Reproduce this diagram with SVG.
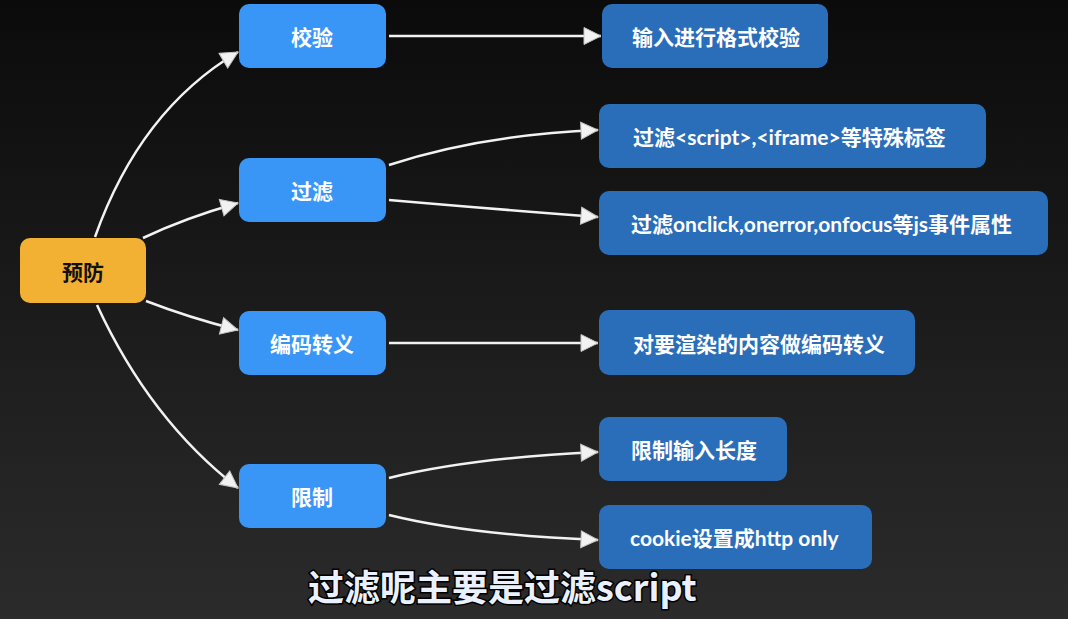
<svg xmlns="http://www.w3.org/2000/svg" width="1068" height="619" viewBox="0 0 1068 619">
<defs>
<linearGradient id="bg" x1="0" y1="0" x2="0" y2="1">
<stop offset="0" stop-color="#0b0b0b"/>
<stop offset="1" stop-color="#2b2b2b"/>
</linearGradient>
<marker id="arr" viewBox="0 0 20 20" refX="18" refY="10" markerWidth="20" markerHeight="20" markerUnits="userSpaceOnUse" orient="auto">
<path d="M1,1.5 L18,10 L1,18.5 Z" fill="#f2f2f2" stroke="#c4c4c4" stroke-width="1"/>
</marker>
<style>
.root{fill:#f3b133}
.lv1{fill:#3a96f6}
.lv2{fill:#2a6db9}
.t{font-family:"Lato","Noto Sans CJK SC",sans-serif;font-size:21px;font-weight:bold;fill:#ffffff}
.tr{font-family:"Noto Sans CJK SC",sans-serif;font-size:21px;font-weight:bold;fill:#111111}
.c{text-anchor:middle;dominant-baseline:central}
.l{dominant-baseline:central}
.edge{fill:none;stroke:#f2f2f2;stroke-width:2.5;marker-end:url(#arr)}
.sub{font-family:"Noto Sans CJK SC",sans-serif;font-size:36px;font-weight:bold;fill:#e9f1ff;stroke:#000000;stroke-width:3;paint-order:stroke}
</style>
</defs>
<rect width="1068" height="619" fill="url(#bg)"/>
<g id="connectors">
<path class="edge" d="M95,237 Q140,110 238,52"/>
<path class="edge" d="M143,238 Q185,218 238,203"/>
<path class="edge" d="M146,301 Q190,318 238,330"/>
<path class="edge" d="M97,305 Q150,420 238,488"/>
<path class="edge" d="M389,36 L601,36"/>
<path class="edge" d="M389,165 Q480,135 598,130"/>
<path class="edge" d="M389,200 Q480,208 598,217"/>
<path class="edge" d="M389,343 L598,343"/>
<path class="edge" d="M389,478 Q470,458 598,452"/>
<path class="edge" d="M389,515 Q470,535 598,540"/>
</g>
<g id="node-yufang">
<rect class="root" x="20" y="238" width="126" height="65" rx="10"/>
<text class="tr c" x="83" y="271">预防</text>
</g>
<g id="node-jiaoyan">
<rect class="lv1" x="239" y="4" width="147" height="64" rx="10"/>
<text class="t c" x="312" y="36">校验</text>
</g>
<g id="node-guolv">
<rect class="lv1" x="239" y="158" width="147" height="64" rx="10"/>
<text class="t c" x="312" y="190">过滤</text>
</g>
<g id="node-bianma">
<rect class="lv1" x="239" y="311" width="147" height="64" rx="10"/>
<text class="t c" x="312" y="343">编码转义</text>
</g>
<g id="node-xianzhi">
<rect class="lv1" x="239" y="464" width="147" height="64" rx="10"/>
<text class="t c" x="312" y="496">限制</text>
</g>
<g id="node-geshi">
<rect class="lv2" x="602" y="4" width="226" height="64" rx="10"/>
<text class="t l" x="632" y="36">输入进行格式校验</text>
</g>
<g id="node-biaoqian">
<rect class="lv2" x="599" y="104" width="387" height="64" rx="10"/>
<text class="t l" x="633" y="136">过滤&lt;script&gt;,&lt;iframe&gt;等特殊标签</text>
</g>
<g id="node-shijian">
<rect class="lv2" x="599" y="191" width="449" height="64" rx="10"/>
<text class="t l" x="631" y="223">过滤onclick,onerror,onfocus等js事件属性</text>
</g>
<g id="node-xuanran">
<rect class="lv2" x="599" y="310" width="316" height="65" rx="10"/>
<text class="t l" x="633" y="343">对要渲染的内容做编码转义</text>
</g>
<g id="node-changdu">
<rect class="lv2" x="599" y="417" width="188" height="64" rx="10"/>
<text class="t l" x="631" y="449">限制输入长度</text>
</g>
<g id="node-cookie">
<rect class="lv2" x="599" y="505" width="273" height="64" rx="10"/>
<text class="t l" x="630" y="537">cookie设置成http only</text>
</g>
<text class="sub" x="308" y="601">过滤呢主要是过滤script</text>
</svg>
